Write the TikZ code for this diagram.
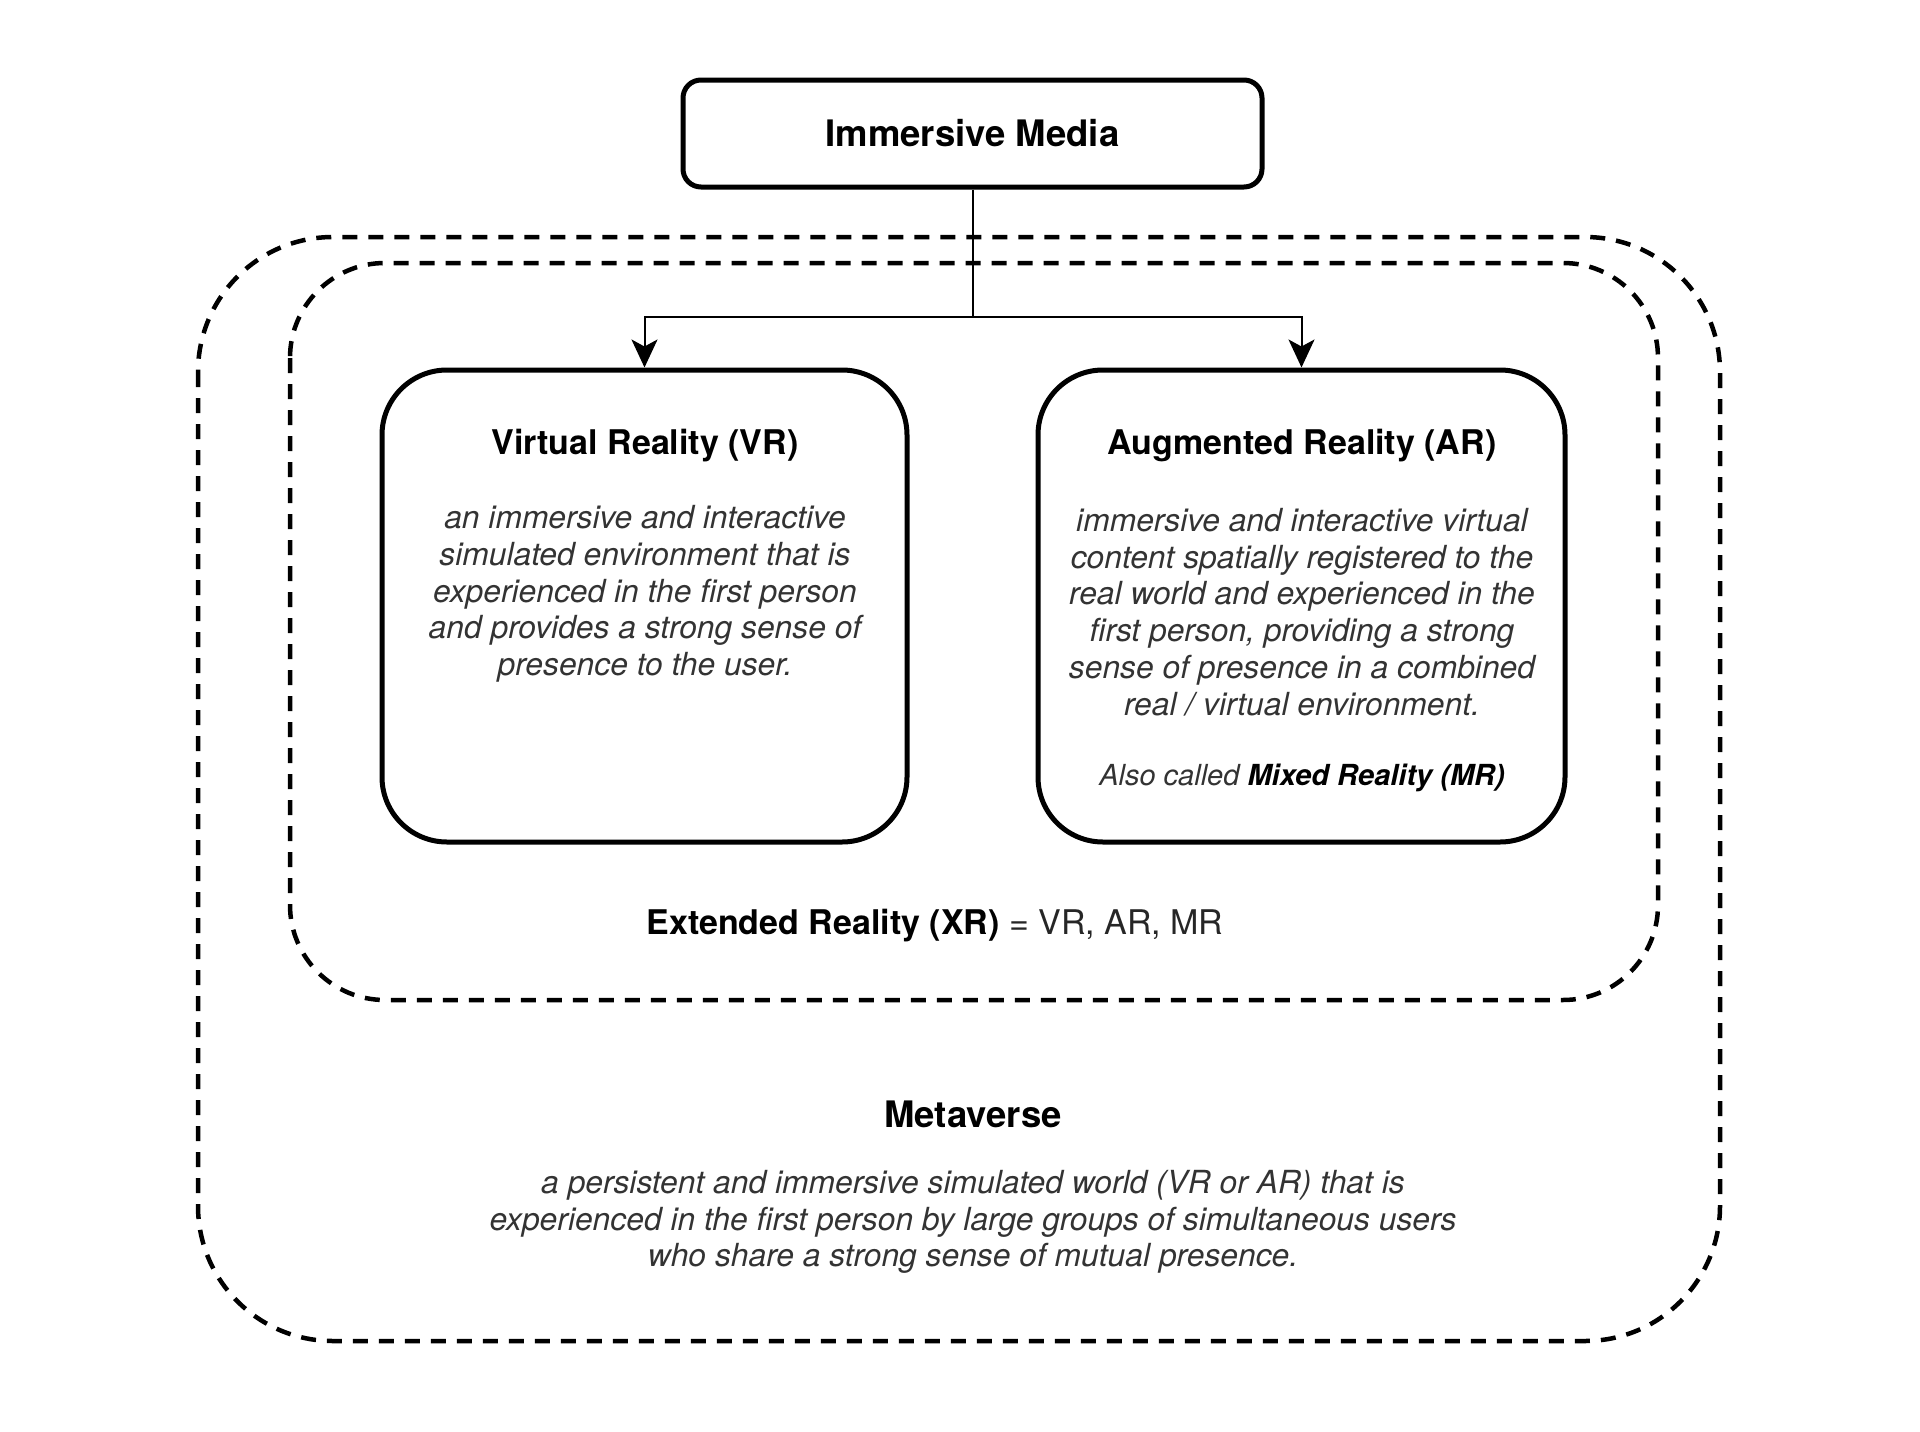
\documentclass[tikz,border=0pt]{standalone}
\usepackage{fontspec}
\setmainfont{TeX Gyre Heros}
\usetikzlibrary{arrows.meta}
\tikzset{
  solidbox/.style={draw=black, line width=5pt, fill=white},
  dashbox/.style={draw=black, line width=4.5pt, dash pattern=on 15pt off 11pt},
  conn/.style={draw=black, line width=2pt},
  arr/.style={conn, -{Stealth[length=28pt,width=26pt,inset=7pt]}},
  titletxt/.style={font=\fontsize{34}{40}\selectfont\bfseries, text=black},
  bodytxt/.style={font=\fontsize{31.8}{36.7}\selectfont\itshape, text=black!80, align=center},
}
\begin{document}
\begin{tikzpicture}[x=1pt,y=-1pt]
\useasboundingbox[fill=white] (0,0) rectangle (1920,1432);
% containers
\draw[dashbox, rounded corners=135pt] (198,237) rectangle (1720,1341);
\draw[dashbox, rounded corners=95pt] (290,263) rectangle (1658,1000);
% boxes
\node[solidbox, rounded corners=18pt, minimum width=579pt, minimum height=107pt, inner sep=0pt] (im) at (972.5,133.5) {};
\node[titletxt, font=\fontsize{36.5}{40}\selectfont\bfseries] (imt) at (im.center) {Immersive Media};
\node[solidbox, rounded corners=65pt, minimum width=525pt, minimum height=472pt, inner sep=0pt] (vr) at (644.5,606) {};
\node[solidbox, rounded corners=65pt, minimum width=527pt, minimum height=472pt, inner sep=0pt] (ar) at (1301.5,606) {};
% connectors
\coordinate (j) at (im.south |- 0,317);
\draw[conn] (im.south) -- (j);
\draw[arr] (j) -| (vr.north);
\draw[arr] (j) -| (ar.north);
% VR text
\node[titletxt] (vrt) at (645,446) {Virtual Reality (VR)};
\node[bodytxt] (vrb) at (645,594) {an immersive and interactive\\simulated environment that is\\experienced in the first person\\and provides a strong sense of\\presence to the user.};
% AR text
\node[titletxt] (art) at (1302,446) {Augmented Reality (AR)};
\node[bodytxt] (arb) at (1302,612) {immersive and interactive virtual\\content spatially registered to the\\real world and experienced in the\\first person, providing a strong\\sense of presence in a combined\\real / virtual environment.};
\node[bodytxt, font=\fontsize{29}{34}\selectfont\itshape] (aka) at (1302,778) {Also called {\bfseries\color{black}Mixed Reality (MR)}};
% XR
\node[font=\fontsize{34}{40}\selectfont, text=black!85] (xr) at (935,926) {{\bfseries\color{black}Extended Reality (XR)} = VR, AR, MR};
% Metaverse
\node[titletxt, font=\fontsize{36.5}{40}\selectfont\bfseries] (mvt) at (973,1114) {Metaverse};
\node[bodytxt] (mvb) at (973,1222) {a persistent and immersive simulated world (VR or AR) that is\\experienced in the first person by large groups of simultaneous users\\who share a strong sense of mutual presence.};
\end{tikzpicture}
\end{document}
